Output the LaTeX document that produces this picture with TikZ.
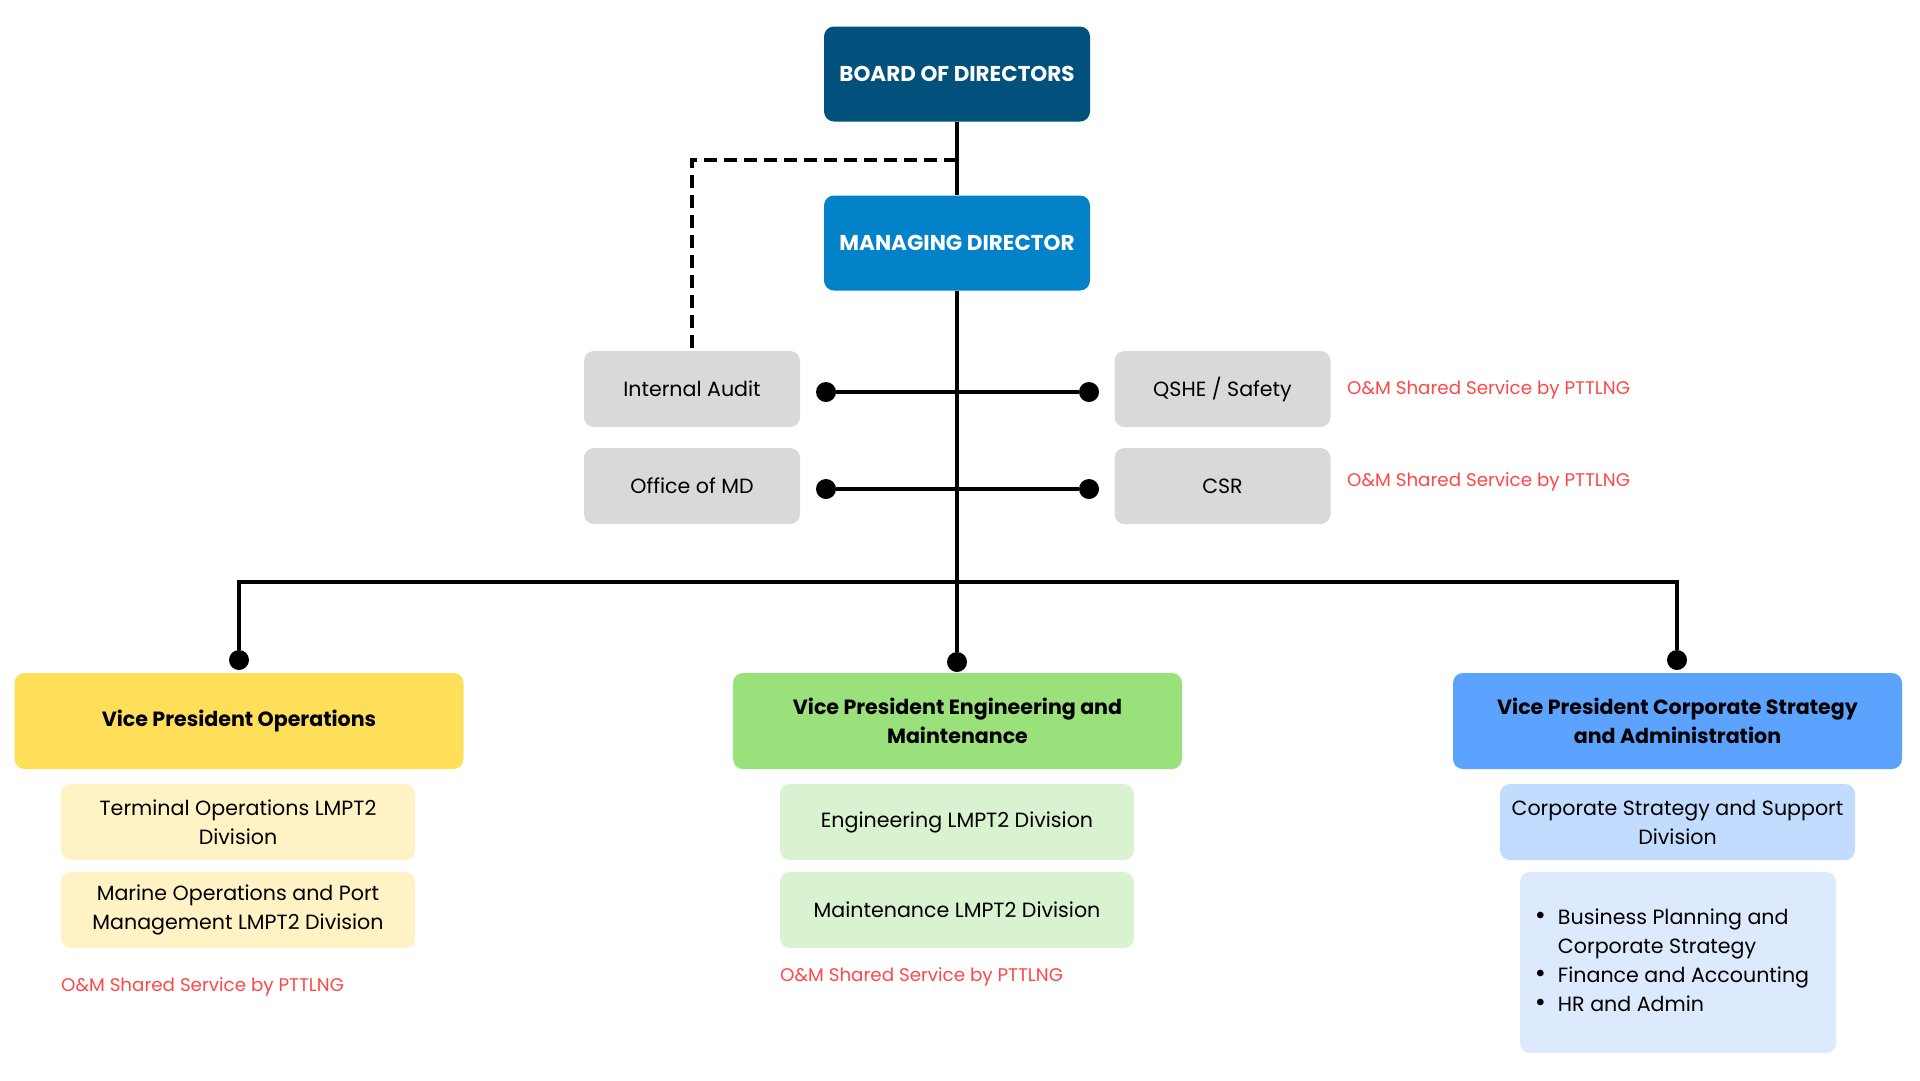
\documentclass[tikz,border=0pt]{standalone}
\usepackage{fontspec}
\setmainfont{Poppins}
\usetikzlibrary{positioning,calc}
\definecolor{boardblue}{HTML}{02507C}
\definecolor{mdblue}{HTML}{0381C9}
\definecolor{staffgray}{HTML}{D9D9D9}
\definecolor{opsyellow}{HTML}{FFDE59}
\definecolor{opslight}{HTML}{FFF2C4}
\definecolor{enggreen}{HTML}{9AE17B}
\definecolor{englight}{HTML}{D9F2CF}
\definecolor{corpblue}{HTML}{5CA3FF}
\definecolor{corplight}{HTML}{C2DCFF}
\definecolor{corppale}{HTML}{DDE9FC}
\definecolor{sharedred}{HTML}{FF4747}
\newcommand{\listdot}{{\fontsize{27}{29}\selectfont\textbullet}}
\tikzset{
  unit/.style={rounded corners=10pt,align=center,inner sep=0pt,
    font=\fontsize{20.6}{29}\selectfont},
  topbox/.style={unit,minimum width=266pt,minimum height=95pt,text=white,
    font=\fontsize{21.5}{29}\selectfont\bfseries},
  staff/.style={unit,fill=staffgray,minimum width=216pt,minimum height=76pt},
  vpbox/.style={unit,minimum width=449pt,minimum height=96pt,
    font=\fontsize{20.6}{29}\selectfont\bfseries},
  divbox/.style={unit,minimum width=354pt,minimum height=76pt},
  shared/.style={anchor=west,inner sep=0pt,text=sharedred,
    font=\fontsize{18.3}{20}\selectfont},
  dot/.style={circle,fill=black,inner sep=0pt,minimum size=20pt},
  link/.style={line width=4.3pt},
  dotted link/.style={line width=4.5pt,dash pattern=on 13pt off 7pt}
}

\begin{document}
\begin{tikzpicture}[x=1pt,y=-1pt]
  \useasboundingbox (0,0) rectangle (1920,1080);

  %--- Top of the chart --------------------------------------------------------
  \node[topbox,fill=boardblue] (board) at (957,74) {BOARD OF DIRECTORS};
  \node[topbox,fill=mdblue]    (md)    at (957,243) {MANAGING DIRECTOR};

  %--- Staff units around the MD line -----------------------------------------
  \node[staff] (audit)  at (692,389)    {Internal Audit};
  \node[staff] (office) at (692,486)    {Office of MD};
  \node[staff] (qshe)   at (1222.5,389) {QSHE / Safety};
  \node[staff] (csr)    at (1222.5,486) {CSR};

  \node[shared] (qsheshared) at (1347,390) {O\&M Shared Service by PTTLNG};
  \node[shared] (csrshared)  at (1347,482) {O\&M Shared Service by PTTLNG};

  \node[dot] (auditdot)  at (826,392)  {};
  \node[dot] (qshedot)   at (1089,392) {};
  \node[dot] (officedot) at (826,489)  {};
  \node[dot] (csrdot)    at (1089,489) {};

  %--- Vice presidents --------------------------------------------------------
  \node[vpbox,fill=opsyellow] (vpops)  at (239,721)
       {Vice President Operations};
  \node[vpbox,fill=enggreen]  (vpeng)  at (957.5,721)
       {Vice President Engineering and\\Maintenance};
  \node[vpbox,fill=corpblue]  (vpcorp) at (1677.5,721)
       {Vice President Corporate Strategy\\and Administration};

  \node[dot] (opsdot)  at (239,660)  {};
  \node[dot] (engdot)  at (957,662)  {};
  \node[dot] (corpdot) at (1677,660) {};

  %--- Divisions --------------------------------------------------------------
  \node[divbox,fill=opslight] (ops1) at (238,822)
       {Terminal Operations LMPT2\\Division};
  \node[divbox,fill=opslight] (ops2) at (238,910)
       {Marine Operations and Port\\Management LMPT2 Division};
  \node[shared] (opsshared) at (61,987) {O\&M Shared Service by PTTLNG};

  \node[divbox,fill=englight] (eng1) at (957,822) {Engineering LMPT2 Division};
  \node[divbox,fill=englight] (eng2) at (957,910) {Maintenance LMPT2 Division};
  \node[shared] (engshared) at (780,977) {O\&M Shared Service by PTTLNG};

  \node[divbox,fill=corplight,minimum width=355pt] (corp1) at (1677.5,822)
       {Corporate Strategy and Support\\Division};
  \node[unit,fill=corppale,minimum width=316pt,minimum height=181pt] (corp2)
       at (1678,962.5)
       {\begin{tabular}{@{}l@{\hspace{12pt}}l@{}}
          \listdot & Business Planning and\\
                   & Corporate Strategy\\
          \listdot & Finance and Accounting\\
          \listdot & HR and Admin
        \end{tabular}\hspace{12pt}};

  %--- Connectors -------------------------------------------------------------
  \coordinate (auditjoin) at (957,160);
  \coordinate (busleft)   at (239,582);
  \coordinate (busright)  at (1677,582);

  \draw[link] (board.south) -- (md.north);
  \draw[link] (md.south) -- (engdot);
  \draw[dotted link] (auditjoin) -| (audit.north);
  \draw[link] (auditdot) -- (qshedot);
  \draw[link] (officedot) -- (csrdot);
  \draw[link] (opsdot) -- (busleft) -- (busright) -- (corpdot);

\end{tikzpicture}
\end{document}
